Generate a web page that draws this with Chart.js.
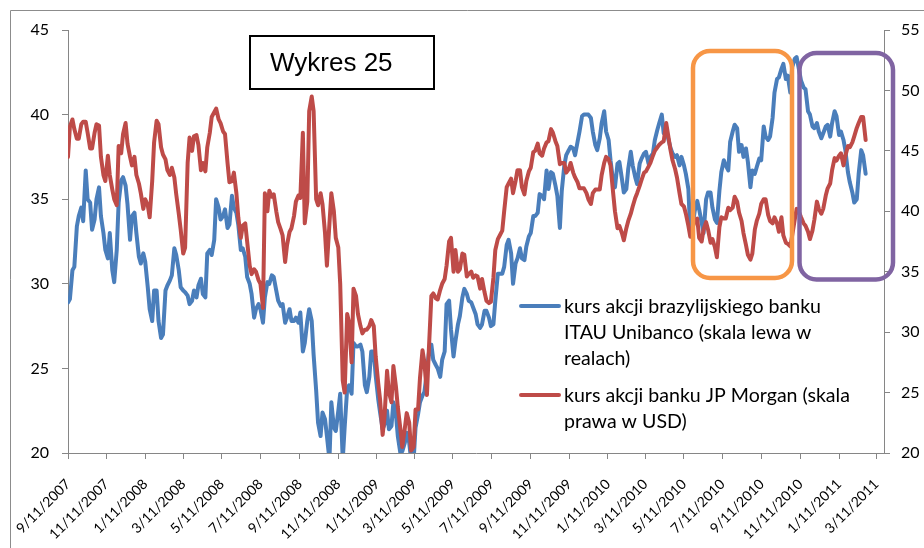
<!DOCTYPE html>
<html>
<head>
<meta charset="utf-8">
<script src="https://cdn.jsdelivr.net/npm/chart.js@4.4.0/dist/chart.umd.min.js"></script>
<style>
  html, body { margin: 0; padding: 0; background: #fff; }
  #wrap { width: 924px; height: 548px; }
</style>
</head>
<body>
<div id="wrap"><canvas id="chart" width="924" height="548"></canvas></div>
<script>
const dates = [
  '2007-09-11','2007-09-14','2007-09-18','2007-09-21','2007-09-25','2007-09-28','2007-10-02','2007-10-05','2007-10-09','2007-10-12',
  '2007-10-16','2007-10-19','2007-10-23','2007-10-26','2007-10-30','2007-11-02','2007-11-06','2007-11-09','2007-11-13','2007-11-16',
  '2007-11-20','2007-11-23','2007-11-27','2007-11-30','2007-12-04','2007-12-07','2007-12-11','2007-12-14','2007-12-18','2007-12-21',
  '2007-12-25','2007-12-28','2008-01-01','2008-01-04','2008-01-08','2008-01-11','2008-01-15','2008-01-18','2008-01-22','2008-01-25',
  '2008-01-29','2008-02-01','2008-02-05','2008-02-08','2008-02-12','2008-02-15','2008-02-19','2008-02-22','2008-02-26','2008-02-29',
  '2008-03-04','2008-03-07','2008-03-11','2008-03-14','2008-03-18','2008-03-21','2008-03-25','2008-03-28','2008-04-01','2008-04-04',
  '2008-04-08','2008-04-11','2008-04-15','2008-04-18','2008-04-22','2008-04-25','2008-04-29','2008-05-02','2008-05-06','2008-05-09',
  '2008-05-13','2008-05-16','2008-05-20','2008-05-23','2008-05-27','2008-05-30','2008-06-03','2008-06-06','2008-06-10','2008-06-13',
  '2008-06-17','2008-06-20','2008-06-24','2008-06-27','2008-07-01','2008-07-04','2008-07-08','2008-07-11','2008-07-15','2008-07-18',
  '2008-07-22','2008-07-25','2008-07-29','2008-08-01','2008-08-05','2008-08-08','2008-08-12','2008-08-15','2008-08-19','2008-08-22',
  '2008-08-26','2008-08-29','2008-09-02','2008-09-05','2008-09-09','2008-09-12','2008-09-16','2008-09-19','2008-09-23','2008-09-26',
  '2008-09-30','2008-10-03','2008-10-07','2008-10-10','2008-10-14','2008-10-17','2008-10-21','2008-10-24','2008-10-28','2008-10-31',
  '2008-11-04','2008-11-07','2008-11-11','2008-11-14','2008-11-18','2008-11-21','2008-11-25','2008-11-28','2008-12-02','2008-12-05',
  '2008-12-09','2008-12-12','2008-12-16','2008-12-19','2008-12-23','2008-12-26','2008-12-30','2009-01-02','2009-01-06','2009-01-09',
  '2009-01-13','2009-01-16','2009-01-20','2009-01-23','2009-01-27','2009-01-30','2009-02-03','2009-02-06','2009-02-10','2009-02-13',
  '2009-02-17','2009-02-20','2009-02-24','2009-02-27','2009-03-03','2009-03-06','2009-03-10','2009-03-13','2009-03-17','2009-03-20',
  '2009-03-24','2009-03-27','2009-03-31','2009-04-03','2009-04-07','2009-04-10','2009-04-14','2009-04-17','2009-04-21','2009-04-24',
  '2009-04-28','2009-05-01','2009-05-05','2009-05-08','2009-05-12','2009-05-15','2009-05-19','2009-05-22','2009-05-26','2009-05-29',
  '2009-06-02','2009-06-05','2009-06-09','2009-06-12','2009-06-16','2009-06-19','2009-06-23','2009-06-26','2009-06-30','2009-07-03',
  '2009-07-07','2009-07-10','2009-07-14','2009-07-17','2009-07-21','2009-07-24','2009-07-28','2009-07-31','2009-08-04','2009-08-07',
  '2009-08-11','2009-08-14','2009-08-18','2009-08-21','2009-08-25','2009-08-28','2009-09-01','2009-09-04','2009-09-08','2009-09-11',
  '2009-09-15','2009-09-18','2009-09-22','2009-09-25','2009-09-29','2009-10-02','2009-10-06','2009-10-09','2009-10-13','2009-10-16',
  '2009-10-20','2009-10-23','2009-10-27','2009-10-30','2009-11-03','2009-11-06','2009-11-10','2009-11-13','2009-11-17','2009-11-20',
  '2009-11-24','2009-11-27','2009-12-01','2009-12-04','2009-12-08','2009-12-11','2009-12-15','2009-12-18','2009-12-22','2009-12-25',
  '2009-12-29','2010-01-01','2010-01-05','2010-01-08','2010-01-12','2010-01-15','2010-01-19','2010-01-22','2010-01-26','2010-01-29',
  '2010-02-02','2010-02-05','2010-02-09','2010-02-12','2010-02-16','2010-02-19','2010-02-23','2010-02-26','2010-03-02','2010-03-05',
  '2010-03-09','2010-03-12','2010-03-16','2010-03-19','2010-03-23','2010-03-26','2010-03-30','2010-04-02','2010-04-06','2010-04-09',
  '2010-04-13','2010-04-16','2010-04-20','2010-04-23','2010-04-27','2010-04-30','2010-05-04','2010-05-07','2010-05-11','2010-05-14',
  '2010-05-18','2010-05-21','2010-05-25','2010-05-28','2010-06-01','2010-06-04','2010-06-08','2010-06-11','2010-06-15','2010-06-18',
  '2010-06-22','2010-06-25','2010-06-29','2010-07-02','2010-07-06','2010-07-09','2010-07-13','2010-07-16','2010-07-20','2010-07-23',
  '2010-07-27','2010-07-30','2010-08-03','2010-08-06','2010-08-10','2010-08-13','2010-08-17','2010-08-20','2010-08-24','2010-08-27',
  '2010-08-31','2010-09-03','2010-09-07','2010-09-10','2010-09-14','2010-09-17','2010-09-21','2010-09-24','2010-09-28','2010-10-01',
  '2010-10-05','2010-10-08','2010-10-12','2010-10-15','2010-10-19','2010-10-22','2010-10-26','2010-10-29','2010-11-02','2010-11-05',
  '2010-11-09','2010-11-12','2010-11-16','2010-11-19','2010-11-23','2010-11-26','2010-11-30','2010-12-03','2010-12-07','2010-12-10',
  '2010-12-14','2010-12-17','2010-12-21','2010-12-24','2010-12-28','2010-12-31','2011-01-04','2011-01-07','2011-01-11','2011-01-14',
  '2011-01-18','2011-01-21','2011-01-25','2011-01-28','2011-02-01','2011-02-04','2011-02-08','2011-02-11','2011-02-15','2011-02-18',
  '2011-02-22'
];

// ITAU Unibanco, left scale (BRL)
const itau = [
  28.9, 29.1, 30.8, 31.0, 33.4, 34.0, 34.5, 33.7, 36.7, 35.0,
  34.8, 33.2, 33.8, 35.0, 35.7, 34.0, 33.0, 32.0, 31.5, 33.0,
  30.8, 30.1, 32.0, 34.8, 36.1, 36.3, 35.8, 34.7, 32.6, 34.0,
  34.2, 33.0, 31.6, 31.2, 31.8, 31.3, 29.8, 28.5, 27.8, 29.6,
  29.6, 27.8, 26.8, 27.0, 29.6, 29.9, 30.2, 30.5, 32.1, 31.7,
  30.8, 29.8, 29.6, 29.5, 29.3, 28.8, 29.0, 29.6, 29.2, 29.9,
  30.3, 29.4, 29.2, 31.8, 32.0, 31.7, 32.6, 35.0, 34.5, 33.8,
  34.0, 34.4, 33.3, 33.5, 35.2, 34.5, 34.2, 33.5, 32.0, 32.1,
  31.6, 30.4, 30.0, 29.4, 28.0, 28.5, 28.8, 28.5, 27.7, 29.2,
  30.1, 30.0, 30.5, 30.4, 29.6, 29.0, 28.7, 28.8, 27.7, 28.0,
  28.5, 27.8, 27.8, 28.0, 27.7, 28.3, 26.0, 26.5, 27.8, 28.5,
  27.8, 25.8, 23.7, 21.8, 21.0, 22.4, 22.0, 21.0, 19.6, 23.0,
  21.5, 21.3, 22.5, 23.5, 19.6, 21.5, 23.8, 24.0, 23.5, 26.5,
  26.3, 26.3, 26.4, 26.0, 24.0, 23.6, 24.5, 26.0, 26.0, 24.6,
  23.2, 22.4, 21.4, 21.7, 22.5, 21.4, 21.6, 23.0, 22.3, 21.0,
  20.0, 20.1, 20.6, 21.2, 20.6, 19.6, 19.6, 21.5, 22.3, 23.0,
  23.4, 23.6, 24.8, 25.9, 26.4, 25.5, 25.2, 25.0, 24.5, 25.5,
  26.0, 28.8, 29.0, 27.3, 25.7, 26.6, 27.6, 28.1, 29.2, 29.7,
  29.4, 29.0, 28.9, 28.6, 28.2, 27.6, 27.4, 27.6, 28.4, 28.4,
  28.0, 27.5, 27.6, 29.0, 30.6, 30.6, 30.6, 31.0, 32.3, 32.6,
  31.8, 30.0, 31.2, 31.5, 32.1, 31.5, 31.4, 32.2, 32.8, 33.0,
  34.0, 34.0, 34.2, 35.3, 35.2, 35.0, 36.7, 35.6, 36.6, 36.5,
  35.8, 35.2, 33.3, 35.5, 37.0, 37.6, 37.9, 38.1, 38.0, 37.6,
  38.4, 39.0, 39.9, 40.0, 40.0, 40.0, 39.8, 39.0, 38.2, 37.9,
  38.6, 39.5, 40.2, 39.0, 38.5, 37.3, 36.1, 35.7, 37.1, 37.2,
  36.2, 35.4, 35.6, 36.8, 37.8, 37.0, 36.3, 35.9, 37.1, 37.4,
  37.7, 37.8, 37.1, 37.5, 37.7, 38.5, 39.1, 39.5, 40.0, 38.9,
  39.0, 38.6, 38.0, 37.7, 37.5, 37.6, 37.0, 37.5, 37.0, 36.5,
  35.6, 33.0, 33.5, 34.3, 34.9, 34.4, 33.6, 33.0, 35.0, 35.4,
  35.4, 34.5, 33.8, 33.6, 35.5, 36.6, 37.3, 37.0, 36.7, 38.4,
  39.0, 39.4, 39.2, 37.8, 38.2, 37.5, 38.0, 37.2, 35.7, 36.7,
  36.5, 36.9, 37.4, 37.3, 39.3, 38.7, 38.5, 38.7, 39.8, 41.3,
  42.1, 42.2, 42.7, 43.0, 42.1, 42.3, 41.3, 42.8, 43.3, 43.4,
  42.6, 42.0, 41.6, 41.5, 40.2, 40.0, 39.3, 39.2, 39.5, 39.0,
  38.6, 38.9, 39.3, 39.4, 38.7, 39.5, 40.2, 39.9, 38.8, 39.0,
  38.5, 37.9, 36.6, 36.0, 35.4, 34.8, 35.0, 36.5, 37.9, 37.6,
  36.5
];

// JP Morgan, right scale (USD)
const jpm = [
  44.5, 47.0, 47.6, 46.8, 46.0, 46.0, 47.2, 47.4, 47.4, 46.5,
  45.2, 45.2, 46.5, 47.2, 47.1, 44.5, 43.0, 42.5, 44.6, 43.0,
  41.8, 41.0, 40.5, 45.4, 44.8, 46.4, 47.3, 45.6, 44.5, 43.8,
  44.5, 43.0, 42.3, 41.5, 40.2, 41.0, 40.5, 39.5, 42.5, 45.7,
  47.5, 47.2, 45.3, 44.7, 44.3, 43.4, 43.0, 43.6, 42.8, 41.4,
  39.8, 38.5, 36.5, 37.0, 44.0, 46.1, 45.0, 46.2, 46.3, 45.5,
  43.4, 44.0, 43.3, 45.3, 46.5, 47.8, 48.2, 48.5, 47.6, 47.3,
  46.6, 46.4, 44.0, 42.4, 42.5, 43.2, 41.5, 39.5, 37.8, 38.8,
  39.0, 37.5, 35.5, 34.8, 35.2, 35.0, 34.3, 34.0, 32.0, 41.5,
  40.0, 41.7, 41.2, 41.4, 40.0, 39.1, 38.5, 38.0, 35.8, 37.2,
  38.3, 38.6, 39.6, 40.8, 41.3, 41.1, 46.5, 39.0, 40.8, 48.3,
  49.5, 48.3, 41.0, 40.5, 41.5, 40.6, 38.2, 35.5, 39.0, 41.5,
  40.0, 37.8, 37.0, 34.0, 26.0, 25.0, 31.5, 30.8, 27.5, 33.6,
  33.0, 31.5, 30.5, 29.9, 30.2, 30.2, 30.5, 31.0, 30.5, 28.0,
  25.8, 24.4, 21.5, 23.0, 26.8, 25.0, 24.2, 27.2, 25.5, 23.8,
  22.0, 20.5, 22.0, 23.3, 22.5, 20.2, 20.5, 23.6, 23.6, 26.2,
  28.5, 27.5, 24.8, 28.5, 33.0, 33.2, 32.8, 32.7, 33.5, 34.0,
  34.4, 35.5, 37.5, 37.8, 35.0, 36.8, 35.0, 35.2, 36.5, 36.4,
  34.6, 34.8, 35.0, 34.5, 34.7, 34.6, 33.6, 34.4, 33.3, 32.6,
  32.4, 32.5, 34.5, 36.8, 37.7, 38.0, 38.4, 40.0, 42.0, 42.3,
  42.7, 41.5, 42.5, 43.4, 43.4, 42.0, 41.4, 42.5, 43.3, 43.6,
  44.9, 45.0, 45.6, 44.8, 44.6, 45.2, 45.7, 45.8, 46.8, 46.5,
  45.8, 45.4, 43.9, 44.0, 44.0, 43.2, 43.5, 44.0, 43.2, 42.8,
  42.4, 41.9, 41.9, 41.9, 41.5, 41.0, 40.6, 41.5, 41.8, 41.8,
  41.8, 43.0, 44.0, 44.5, 44.3, 43.8, 41.6, 40.0, 38.6, 38.8,
  38.2, 37.6, 38.6, 39.2, 39.8, 40.4, 41.1, 41.5, 42.1, 42.6,
  43.2, 43.3, 43.7, 44.0, 44.6, 45.0, 45.3, 45.5, 45.7, 45.8,
  47.3, 46.3, 45.0, 44.2, 43.5, 42.8, 41.5, 40.6, 40.4, 39.8,
  38.8, 37.9, 38.7, 39.2, 39.4, 37.8, 37.5, 38.5, 39.1, 38.5,
  37.4, 37.7, 37.0, 36.2, 38.7, 39.5, 39.4, 39.4, 40.3, 40.1,
  40.3, 41.2, 40.8, 39.9, 39.2, 38.2, 37.2, 36.4, 36.0, 36.5,
  38.5, 39.2, 39.8, 40.6, 41.0, 41.0, 39.7, 39.2, 39.0, 39.5,
  39.0, 38.3, 39.5, 38.0, 37.4, 37.3, 37.1, 38.0, 39.3, 40.2,
  39.9, 39.5, 39.0, 38.8, 38.3, 37.7, 38.4, 39.3, 40.8, 40.2,
  39.8, 40.2, 41.3, 41.9, 42.3, 43.4, 44.4, 44.2, 44.6, 44.8,
  43.8, 44.6, 45.4, 45.3, 45.7, 46.2, 46.9, 47.3, 47.8, 47.8,
  45.9
];

const tickLabels = [
  '9/11/2007', '11/11/2007', '1/11/2008', '3/11/2008', '5/11/2008', '7/11/2008',
  '9/11/2008', '11/11/2008', '1/11/2009', '3/11/2009', '5/11/2009', '7/11/2009',
  '9/11/2009', '11/11/2009', '1/11/2010', '3/11/2010', '5/11/2010', '7/11/2010',
  '9/11/2010', '11/11/2010', '1/11/2011', '3/11/2011'
];
const axisEnd = '3/23/2011';

const seriesNames = [
  ['kurs akcji brazylijskiego banku', 'ITAU Unibanco (skala lewa w', 'realach)'],
  ['kurs akcji banku JP Morgan (skala', 'prawa w USD)']
];
const chartTitle = 'Wykres 25';

const BLUE = '#4A7EBB';
const RED = '#BE4B48';
const AXIS = '#868686';
const FONT = 'Lato';

// days since the first tick
const DAY = 86400000;
function mdyToUTC(s) {
  const [m, d, y] = s.split('/').map(Number);
  return Date.UTC(y, m - 1, d);
}
const t0 = mdyToUTC(tickLabels[0]);
function isoToDay(s) {
  const [y, m, d] = s.split('-').map(Number);
  return (Date.UTC(y, m - 1, d) - t0) / DAY;
}
const tickDays = tickLabels.map((s) => (mdyToUTC(s) - t0) / DAY);
const xMax = (mdyToUTC(axisEnd) - t0) / DAY;

function roundRect(ctx, x, y, w, h, r) {
  ctx.beginPath();
  ctx.moveTo(x + r, y);
  ctx.lineTo(x + w - r, y);
  ctx.arcTo(x + w, y, x + w, y + r, r);
  ctx.lineTo(x + w, y + h - r);
  ctx.arcTo(x + w, y + h, x + w - r, y + h, r);
  ctx.lineTo(x + r, y + h);
  ctx.arcTo(x, y + h, x, y + h - r, r);
  ctx.lineTo(x, y + r);
  ctx.arcTo(x, y, x + r, y, r);
  ctx.closePath();
}

// frame, highlight boxes, title box and the legend
const overlay = {
  id: 'overlay',
  afterDraw(chart) {
    const ctx = chart.ctx;
    ctx.save();

    ctx.strokeStyle = '#8c8c8c';
    ctx.lineWidth = 1;
    ctx.beginPath();
    ctx.moveTo(10.5, 548);
    ctx.lineTo(10.5, 10.5);
    ctx.lineTo(924, 10.5);
    ctx.stroke();

    ctx.lineWidth = 4.5;
    ctx.strokeStyle = '#F79646';
    roundRect(ctx, 693, 51, 99, 227, 17);
    ctx.stroke();
    ctx.strokeStyle = '#8064A2';
    roundRect(ctx, 799.5, 53, 93.5, 226.5, 17);
    ctx.stroke();

    ctx.fillStyle = '#fff';
    ctx.fillRect(250, 36, 184, 53);
    ctx.strokeStyle = '#000';
    ctx.lineWidth = 2;
    ctx.strokeRect(250, 36, 184, 53);
    ctx.fillStyle = '#000';
    ctx.font = '26px "Liberation Sans", Arial, sans-serif';
    ctx.textBaseline = 'alphabetic';
    ctx.textAlign = 'left';
    ctx.fillText(chartTitle, 270, 71);

    // legend text sized so the first line spans the same width as in the picture
    ctx.font = '20px ' + FONT;
    const w20 = ctx.measureText(seriesNames[0][0]).width;
    const size = 20 * 257 / w20;
    ctx.font = size.toFixed(2) + 'px ' + FONT;
    ctx.textBaseline = 'middle';
    const entries = [
      { color: BLUE, y: 306, lines: seriesNames[0] },
      { color: RED, y: 395, lines: seriesNames[1] }
    ];
    entries.forEach((e) => {
      ctx.strokeStyle = e.color;
      ctx.lineWidth = 4;
      ctx.lineCap = 'round';
      ctx.beginPath();
      ctx.moveTo(521, e.y);
      ctx.lineTo(559, e.y);
      ctx.stroke();
      ctx.fillStyle = '#000';
      e.lines.forEach((t, i) => ctx.fillText(t, 564, e.y + 1 + i * 25.7));
    });
    ctx.restore();
  }
};

function init() {
  const ctx = document.getElementById('chart').getContext('2d');
  new Chart(ctx, {
    type: 'line',
    data: {
      datasets: [
        {
          label: seriesNames[0].join(' '),
          data: dates.map((d, i) => ({ x: isoToDay(d), y: itau[i] })),
          yAxisID: 'y',
          borderColor: BLUE,
          borderWidth: 4,
          order: 2
        },
        {
          label: seriesNames[1].join(' '),
          data: dates.map((d, i) => ({ x: isoToDay(d), y: jpm[i] })),
          yAxisID: 'y2',
          borderColor: RED,
          borderWidth: 4,
          order: 1
        }
      ]
    },
    options: {
      responsive: false,
      animation: false,
      devicePixelRatio: 1,
      layout: { padding: { top: 30, left: 0, right: 0, bottom: 0 } },
      elements: {
        point: { radius: 0 },
        line: { tension: 0, borderJoinStyle: 'round', borderCapStyle: 'round' }
      },
      datasets: { line: { clip: 0 } },
      plugins: { legend: { display: false }, tooltip: { enabled: false } },
      scales: {
        x: {
          type: 'linear',
          min: 0,
          max: xMax,
          afterBuildTicks: (s) => { s.ticks = tickDays.map((v) => ({ value: v })); },
          afterFit: (s) => { s.height = 95; },
          ticks: {
            autoSkip: false,
            maxRotation: 45,
            minRotation: 45,
            padding: 17,
            color: '#000',
            font: { family: FONT, size: 14 },
            callback: (v, i) => tickLabels[i]
          },
          grid: { drawOnChartArea: false, tickLength: 6, color: AXIS },
          border: { color: AXIS }
        },
        y: {
          position: 'left',
          min: 20,
          max: 45,
          afterFit: (s) => { s.width = 68; },
          ticks: { stepSize: 5, padding: 13, color: '#000', font: { family: FONT, size: 16 } },
          grid: { drawOnChartArea: false, tickLength: 6, color: AXIS },
          border: { color: AXIS }
        },
        y2: {
          position: 'right',
          min: 20,
          max: 55,
          afterFit: (s) => { s.width = 40; },
          ticks: { stepSize: 5, padding: 11, color: '#000', font: { family: FONT, size: 16 } },
          grid: { drawOnChartArea: false, tickLength: 6, color: AXIS },
          border: { color: AXIS }
        }
      }
    },
    plugins: [overlay]
  });
}

document.fonts.load('16px ' + FONT).then(init, init);
</script>
</body>
</html>
